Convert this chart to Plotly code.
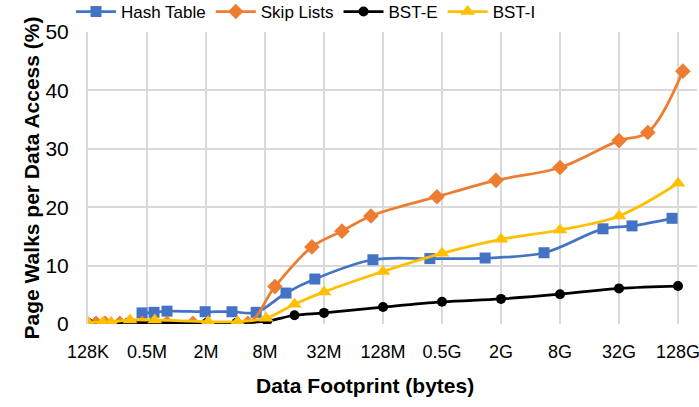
import math
import plotly.graph_objects as go

# Data footprint in MB (log-scaled x axis), values = page walks per data access (%)
hash_x = [0.445, 0.59, 0.80, 1.96, 3.68, 6.5, 13.1, 25.8, 101, 385, 1410, 5630, 22500, 44500, 114000]
hash_y = [1.9, 2.0, 2.2, 2.1, 2.1, 2.0, 5.3, 7.7, 11.0, 11.2, 11.3, 12.2, 16.3, 16.8, 18.1]

skip_x = [0.151, 0.187, 0.264, 0.445, 0.80, 1.47, 5.35, 10.1, 24.1, 48.8, 96.4, 455, 1820, 8192, 32768, 64500, 147000]
skip_y = [0.1, 0.1, 0.1, 0.1, 0.1, 0.1, 0.1, 6.4, 13.2, 15.9, 18.5, 21.8, 24.6, 26.8, 31.4, 32.8, 43.3]

bste_x = [0.125, 0.32, 0.57, 2.04, 4.1, 8.4, 16, 32, 128, 512, 2048, 8192, 32768, 131072]
bste_y = [0.2, 0.2, 0.2, 0.2, 0.2, 0.5, 1.5, 1.9, 2.9, 3.8, 4.3, 5.1, 6.1, 6.5]

bsti_x = [0.125, 0.177, 0.215, 0.335, 0.60, 2.1, 4.2, 8.2, 16, 32, 128, 512, 2048, 8192, 32768, 131072]
bsti_y = [0.3, 0.3, 0.3, 0.7, 0.7, 0.4, 0.4, 1.0, 3.4, 5.5, 9.0, 12.1, 14.5, 16.1, 18.5, 24.1]

tick_vals = [0.125, 0.5, 2, 8, 32, 128, 512, 2048, 8192, 32768, 131072]
tick_text = ["128K", "0.5M", "2M", "8M", "32M", "128M", "0.5G", "2G", "8G", "32G", "128G"]

FONT = "Liberation Sans, Arial, sans-serif"
GRID = "#d9d9d9"

fig = go.Figure()
series = [
    ("Hash Table", hash_x, hash_y, "#4472C4", "square", 11),
    ("Skip Lists", skip_x, skip_y, "#ED7D31", "diamond", 12),
    ("BST-E", bste_x, bste_y, "#000000", "circle", 10),
    ("BST-I", bsti_x, bsti_y, "#FFC000", "triangle-up", 13),
]
for name, xs, ys, col, sym, sz in series:
    fig.add_trace(go.Scatter(
        x=xs, y=ys, name=name, mode="lines+markers",
        line=dict(color=col, width=2.75, shape="spline", smoothing=1.0),
        marker=dict(color=col, symbol=sym, size=sz),
    ))

x_left = math.log10(0.125)
x_right = x_left + 609 * math.log10(4) / 59.0

W, H = 699, 407
fig.update_layout(
    width=W, height=H,
    margin=dict(l=88, r=2, t=32, b=83, autoexpand=False),
    paper_bgcolor="white", plot_bgcolor="white",
    font=dict(family=FONT, size=18, color="#000000"),
    legend=dict(orientation="h", xref="container", yref="container",
                x=0.1016, y=1 - 12 / 407, xanchor="left", yanchor="middle",
                font=dict(size=17), bgcolor="rgba(0,0,0,0)",
                traceorder="normal", itemwidth=40, tracegroupgap=0),
    xaxis=dict(type="log", range=[x_left, x_right], automargin=False,
               tickvals=tick_vals, ticktext=tick_text, ticklabeloverflow="allow",
               showgrid=True, gridcolor=GRID, gridwidth=2,
               showline=False, zeroline=False, ticks="",
               tickfont=dict(size=18), ticklabelstandoff=15),
    yaxis=dict(range=[0, 50], dtick=10, automargin=False,
               showgrid=True, gridcolor=GRID, gridwidth=2,
               showline=True, linecolor=GRID, linewidth=2,
               zeroline=False, ticks="",
               tickfont=dict(size=21), ticklabelstandoff=13,
               title=dict(text="<b>Page Walks per Data Access (%)</b>", font=dict(size=21), standoff=0)),
    annotations=[dict(text="<b>Data Footprint (bytes)</b>", xref="paper", yref="paper",
                      x=(365 - 88) / 609, y=-(385 - 324) / 292, xanchor="center", yanchor="middle",
                      showarrow=False, font=dict(size=21))],
)

fig.write_html("out.html", config={"displayModeBar": False},
               post_script="document.body.style.margin='0';document.body.style.overflow='hidden';")
